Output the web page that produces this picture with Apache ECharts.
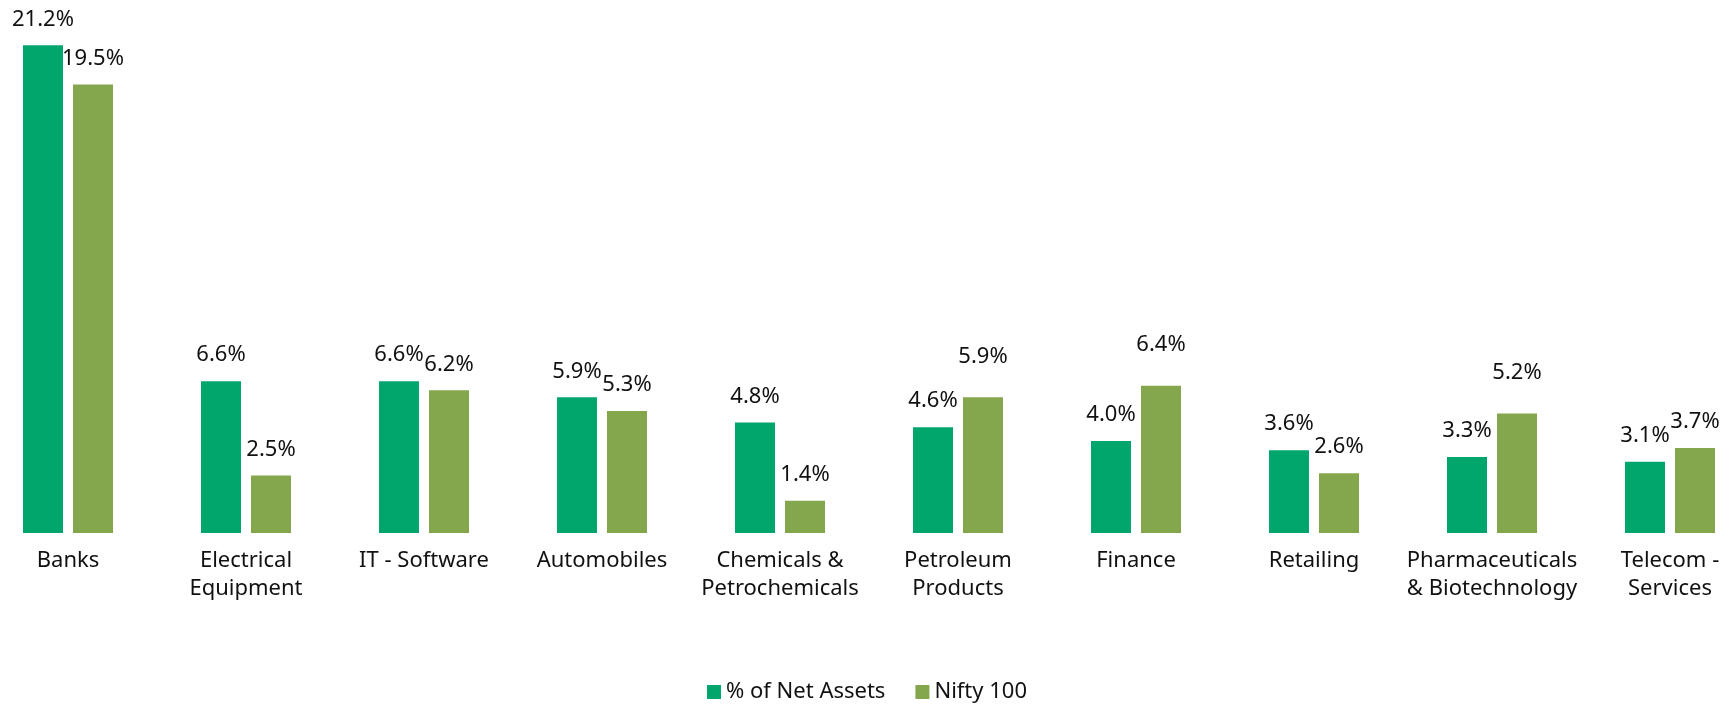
<!DOCTYPE html>
<html>
<head>
<meta charset="utf-8">
<script src="https://cdn.jsdelivr.net/npm/echarts@6/dist/echarts.min.js"></script>
<style>
  html, body { margin: 0; padding: 0; background: #fff; }
  #chart { width: 1734px; height: 705px; }
</style>
</head>
<body>
<div id="chart"></div>
<script>
// sectors
const categories = [
  "Banks", "Electrical\nEquipment", "IT - Software", "Automobiles",
  "Chemicals &\nPetrochemicals", "Petroleum\nProducts", "Finance",
  "Retailing", "Pharmaceuticals\n& Biotechnology", "Telecom -\nServices"
];
const netAssets = [21.2, 6.6, 6.6, 5.9, 4.8, 4.6, 4.0, 3.6, 3.3, 3.1];
const nifty100 = [19.5, 2.5, 6.2, 5.3, 1.4, 5.9, 6.4, 2.6, 5.2, 3.7];

// labels that sit a bit higher in the original
const raisedNifty = [5, 6, 8];

const FONT = "Noto Sans";
const GREEN = "#00A66C";
const OLIVE = "#84A64D";

const chart = echarts.init(document.getElementById("chart"));

const labelStyle = {
  show: true,
  position: "top",
  distance: 15,
  color: "#111",
  fontFamily: FONT,
  fontSize: 22,
  formatter: (p) => p.value.toFixed(1) + "%",
};

chart.setOption({
  animation: false,
  grid: {
    left: -21,
    right: -25,
    top: 20,
    bottom: 172,
    outerBoundsMode: "none",
    containLabel: false,
  },
  legend: {
    top: 676,
    left: "center",
    itemWidth: 14,
    itemHeight: 14,
    itemGap: 30,
    icon: "rect",
    textStyle: { fontFamily: FONT, fontSize: 22, color: "#111" },
  },
  xAxis: {
    type: "category",
    data: categories,
    axisLine: { show: false },
    axisTick: { show: false },
    axisLabel: {
      interval: 0,
      margin: 14,
      color: "#111",
      fontFamily: FONT,
      fontSize: 22,
      lineHeight: 28,
    },
  },
  yAxis: {
    type: "value",
    show: false,
    min: 0,
    max: 22.3,
    splitLine: { show: false },
  },
  series: [
    {
      name: "% of Net Assets",
      type: "bar",
      data: netAssets,
      barWidth: 40,
      barGap: "25%",
      itemStyle: { color: GREEN },
      label: labelStyle,
    },
    {
      name: "Nifty 100",
      type: "bar",
      data: nifty100.map((v, i) =>
        raisedNifty.includes(i)
          ? { value: v, label: { distance: 30 } }
          : v
      ),
      barWidth: 40,
      itemStyle: { color: OLIVE },
      label: labelStyle,
    },
  ],
});
</script>
</body>
</html>
